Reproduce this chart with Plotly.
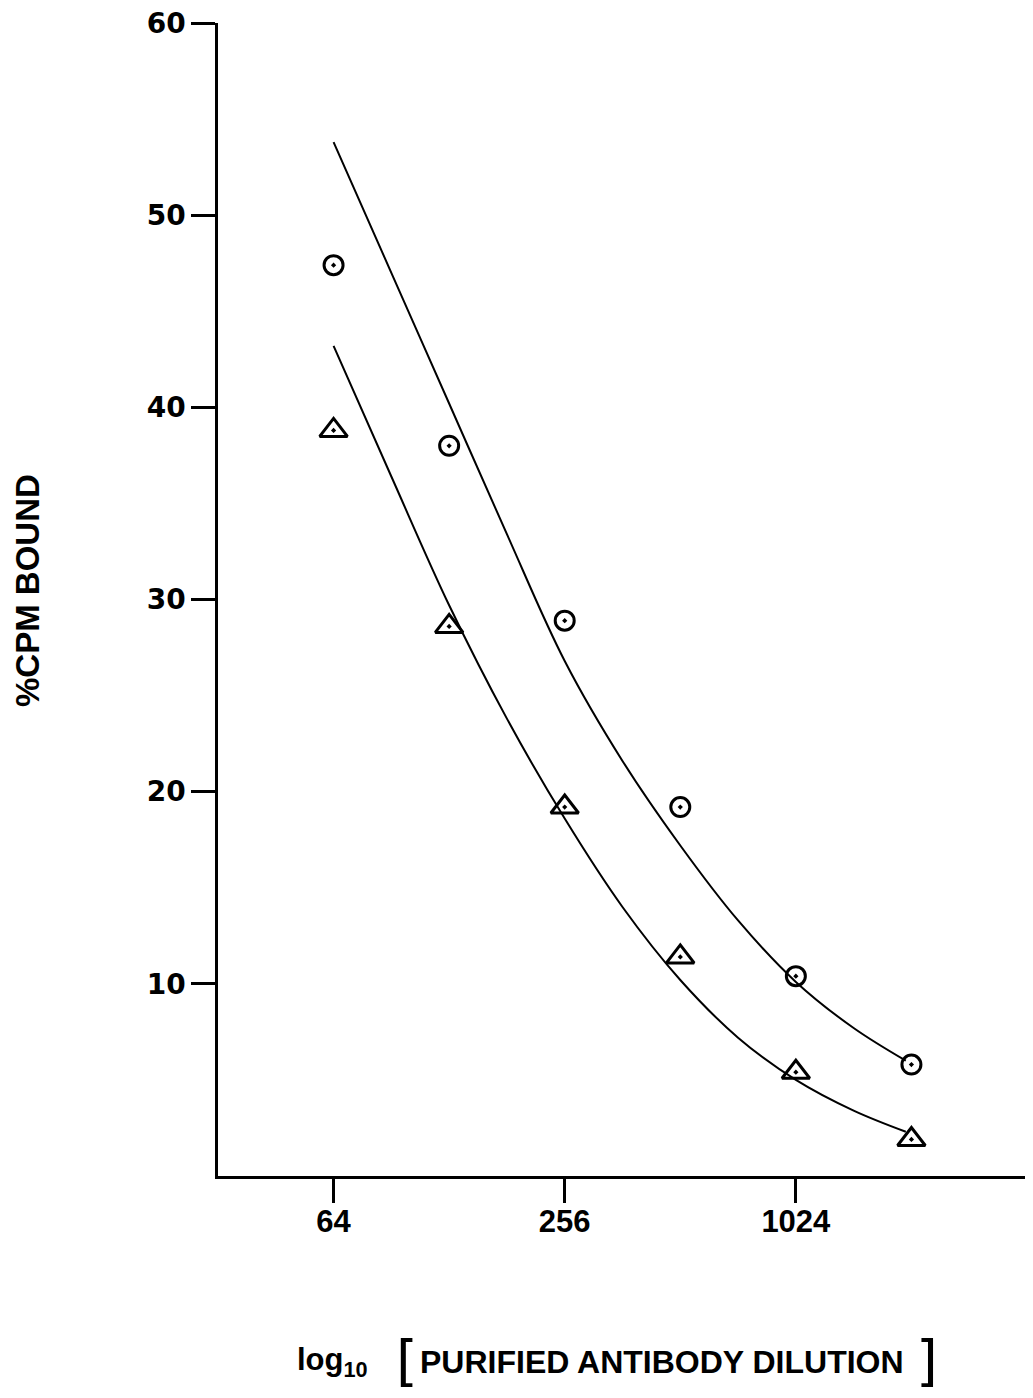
import plotly.graph_objects as go

# Data
dilutions = [64, 128, 256, 512, 1024, 2048]
circle_vals = [47.4, 38.0, 28.9, 19.2, 10.4, 5.8]
triangle_vals = [38.8, 28.6, 19.2, 11.4, 5.4, 1.9]

# Fitted curves (sampled by eye)
curve_x = [64, 90.5, 128, 181, 256, 362, 512, 724, 1024, 1448, 1980]
upper_curve = [53.8, 47.0, 40.2, 33.4, 26.8, 21.6, 17.2, 13.3, 10.1, 7.7, 6.0]
lower_curve = [43.2, 36.4, 29.7, 23.8, 18.6, 14.0, 10.2, 7.2, 5.0, 3.4, 2.3]

x_tickvals = [64, 256, 1024, 4096]
x_ticktext = ["64", "256", "1024", ""]
y_tickvals = [10, 20, 30, 40, 50, 60]
y_ticktext = ["10", "20", "30", "40", "50", "60"]

fig = go.Figure()
for cy in (upper_curve, lower_curve):
    fig.add_trace(go.Scatter(x=curve_x, y=cy, mode="lines",
                             line=dict(color="black", width=2, shape="spline", smoothing=1.0),
                             showlegend=False, hoverinfo="skip"))
fig.add_trace(go.Scatter(x=dilutions, y=circle_vals, mode="markers",
                         marker=dict(symbol="circle-open-dot", size=19, color="black",
                                     line=dict(width=3, color="black")),
                         showlegend=False))
fig.add_trace(go.Scatter(x=dilutions, y=triangle_vals, mode="markers",
                         marker=dict(symbol="triangle-up-open-dot", size=24, color="black",
                                     line=dict(width=3, color="black")),
                         showlegend=False))

# the page body has an 8 px margin, so the figure is drawn 8 px in from the top-left
fig.update_layout(
    width=1025, height=1390,
    margin=dict(l=210, r=6, t=15, b=222),
    paper_bgcolor="white", plot_bgcolor="white",
    xaxis=dict(type="log", range=[1.50515, 3.61236], showgrid=False, zeroline=False,
               automargin=False,
               showline=True, linecolor="black", linewidth=2.5,
               ticks="outside", ticklen=24, tickwidth=2.5, tickcolor="black",
               tickvals=x_tickvals, ticktext=x_ticktext, ticklabelstandoff=-8,
               ticklabeloverflow="allow",
               tickfont=dict(family="Liberation Sans", size=31, color="black", weight="bold")),
    yaxis=dict(range=[0, 60], showgrid=False, zeroline=False,
               automargin=False,
               showline=True, linecolor="black", linewidth=2.5,
               ticks="outside", ticklen=24, tickwidth=2.5, tickcolor="black",
               tickvals=y_tickvals, ticktext=y_ticktext, ticklabeloverflow="allow",
               tickfont=dict(family="DejaVu Sans", size=28, color="black", weight="bold")),
)

def px(x):
    return (x - 218) / 809

def py(y):
    return (1176 - y) / 1153

fig.add_annotation(text="%CPM BOUND", xref="paper", yref="paper", x=px(27), y=py(591),
                   xanchor="center", yanchor="middle", textangle=-90, showarrow=False,
                   font=dict(family="Liberation Sans", size=33, color="black", weight="bold"))
fig.add_annotation(text="log<sub>10</sub>", xref="paper", yref="paper", x=px(332), y=py(1362),
                   xanchor="center", yanchor="middle",
                   showarrow=False, font=dict(family="Liberation Sans", size=31, color="black", weight="bold"))
fig.add_annotation(text="[", xref="paper", yref="paper", x=px(407), y=py(1360),
                   xanchor="center", yanchor="middle",
                   showarrow=False, font=dict(family="DejaVu Sans", size=56, color="black"))
fig.add_annotation(text="PURIFIED ANTIBODY DILUTION", xref="paper", yref="paper",
                   x=px(662), y=py(1362), xanchor="center", yanchor="middle", showarrow=False,
                   font=dict(family="Liberation Sans", size=32, color="black", weight="bold"))
fig.add_annotation(text="]", xref="paper", yref="paper", x=px(927), y=py(1360),
                   xanchor="center", yanchor="middle",
                   showarrow=False, font=dict(family="DejaVu Sans", size=56, color="black"))

fig.write_html("out.html")
